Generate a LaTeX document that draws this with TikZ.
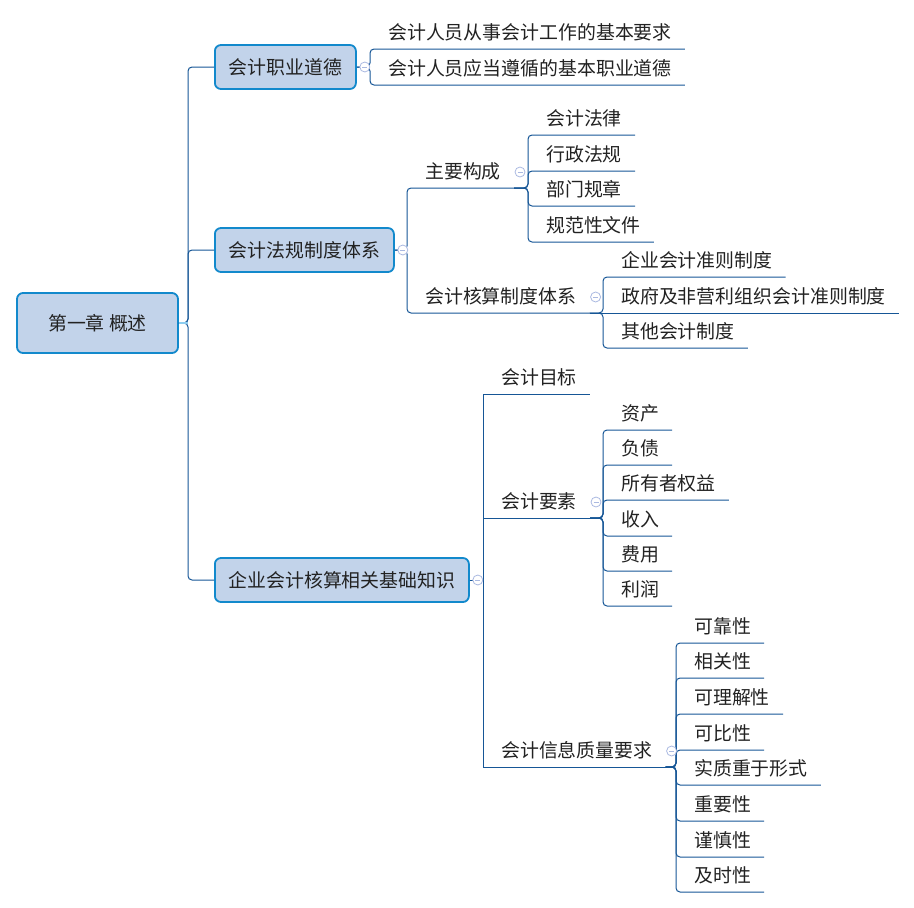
\documentclass[tikz,border=0pt]{standalone}
\usepackage{fontspec}
\setmainfont{Noto Sans CJK SC}
\definecolor{boxfill}{RGB}{194,211,234}
\definecolor{boxline}{RGB}{18,137,204}
\definecolor{linkc}{RGB}{22,86,150}
\definecolor{stubc}{RGB}{140,205,240}
\definecolor{foldc}{RGB}{170,185,225}
\definecolor{txtc}{RGB}{34,34,34}
\tikzset{
  topic/.style={draw=boxline, fill=boxfill, line width=1.8pt, rounded corners=6pt,
    minimum height=44pt, inner sep=0pt, anchor=west, text=txtc},
  leaf/.style={anchor=south west, inner sep=0pt, text height=15pt, text depth=9pt, text=txtc,
    execute at begin node=\hspace*{18pt}, execute at end node=\hspace*{13pt}},
  conn/.style={draw=linkc, line width=1pt, rounded corners=4pt},
  connsharp/.style={draw=linkc, line width=1pt},
  fold/.style={circle, draw=foldc, fill=white, minimum size=10pt, inner sep=0pt, line width=.8pt,
    path picture={\draw[foldc, line width=.8pt] ([xshift=-2.5pt]path picture bounding box.center)
      -- ([xshift=2.5pt]path picture bounding box.center);}}
}
\begin{document}
\begin{tikzpicture}[x=1pt, y=-1pt, font=\fontsize{18.9pt}{22pt}\selectfont]
\useasboundingbox (0,0) rectangle (914,908);
\node[topic, minimum width=161pt, minimum height=60pt, anchor=center] (ch1) at (97.5,323) {第一章 概述};
\node[topic, minimum width=141pt] (ethic) at (214,67) {会计职业道德};
\node[topic, minimum width=179pt] (reg) at (214,250) {会计法规制度体系};
\node[topic, minimum width=254pt] (basic) at (214,580) {企业会计核算相关基础知识};
\coordinate (bus) at (188,323);
\draw[conn] (ch1.east) -- (bus) |- (ethic.west);
\draw[conn] (ch1.east) -- (bus) |- (reg.west);
\draw[conn] (ch1.east) -- (bus) |- (basic.west);
\draw[stubc, line width=1.2pt] (ch1.east) -- (bus);

\node[leaf] (ethic1) at (370,49) {会计人员从事会计工作的基本要求};
\node[leaf] (ethic2) at (370,85) {会计人员应当遵循的基本职业道德};
\draw[conn] (ethic.east) -- (ethic.east -| ethic1.south west) |- (ethic1.south east);
\draw[conn] (ethic.east) -- (ethic.east -| ethic2.south west) |- (ethic2.south east);
\node[fold] (ethicf) at ([xshift=8pt]ethic.east) {};

\node[leaf] (regmain) at (407,188) {主要构成};
\node[leaf] (regacc) at (407,313) {会计核算制度体系};
\draw[conn] (reg.east) -- (reg.east -| regmain.south west) |- (regmain.south east);
\draw[conn] (reg.east) -- (reg.east -| regacc.south west) |- (regacc.south east);
\node[fold] (regf) at ([xshift=8pt]reg.east) {};

\node[leaf] (regmain1) at (528,135) {会计法律};
\node[leaf] (regmain2) at (528,171) {行政法规};
\node[leaf] (regmain3) at (528,206) {部门规章};
\node[leaf] (regmain4) at (528,242) {规范性文件};
\foreach \i in {1,...,4}
  \draw[conn] (regmain.south east) -- (regmain.south east -| regmain\i.south west) |- (regmain\i.south east);
\node[fold] (regmainf) at ([shift={(6pt,16pt)}]regmain.south east) {};

\node[leaf] (regacc1) at (603,277) {企业会计准则制度};
\node[leaf] (regacc2) at (603,313) {政府及非营利组织会计准则制度};
\node[leaf] (regacc3) at (603,348) {其他会计制度};
\foreach \i in {1,3}
  \draw[conn] (regacc.south east) -- (regacc.south east -| regacc\i.south west) |- (regacc\i.south east);
\draw[conn] (regacc.south east) -- (regacc2.south east);
\node[fold] (regaccf) at ([shift={(6pt,16pt)}]regacc.south east) {};

\node[leaf] (goal) at (483,394) {会计目标};
\node[leaf] (elem) at (483,518) {会计要素};
\node[leaf] (qual) at (483,767) {会计信息质量要求};
\draw[connsharp] (basic.east) -- (basic.east -| goal.south west) |- (goal.south east);
\draw[connsharp] (basic.east) -- (basic.east -| elem.south west) |- (elem.south east);
\draw[connsharp] (basic.east) -- (basic.east -| qual.south west) |- (qual.south east);
\node[fold] (basicf) at ([xshift=8pt]basic.east) {};

\node[leaf] (elem1) at (603,430) {资产};
\node[leaf] (elem2) at (603,465) {负债};
\node[leaf] (elem3) at (603,500) {所有者权益};
\node[leaf] (elem4) at (603,536) {收入};
\node[leaf] (elem5) at (603,571) {费用};
\node[leaf] (elem6) at (603,606) {利润};
\foreach \i in {1,...,6}
  \draw[conn] (elem.south east) -- (elem.south east -| elem\i.south west) |- (elem\i.south east);
\node[fold] (elemf) at ([shift={(6pt,16pt)}]elem.south east) {};

\node[leaf] (qual1) at (676,643) {可靠性};
\node[leaf] (qual2) at (676,678) {相关性};
\node[leaf] (qual3) at (676,714) {可理解性};
\node[leaf] (qual4) at (676,750) {可比性};
\node[leaf] (qual5) at (676,785) {实质重于形式};
\node[leaf] (qual6) at (676,821) {重要性};
\node[leaf] (qual7) at (676,857) {谨慎性};
\node[leaf] (qual8) at (676,892) {及时性};
\foreach \i in {1,...,8}
  \draw[conn] (qual.south east) -- (qual.south east -| qual\i.south west) |- (qual\i.south east);
\node[fold] (qualf) at ([shift={(6pt,16pt)}]qual.south east) {};
\end{tikzpicture}
\end{document}
